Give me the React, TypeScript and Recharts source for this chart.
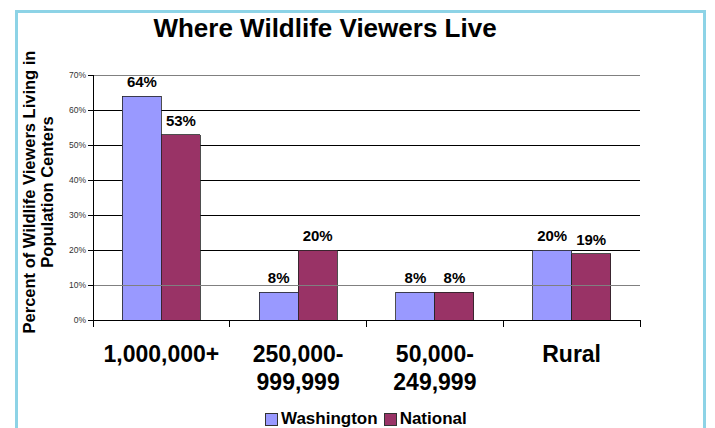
import React from "react";
import {
  BarChart,
  Bar,
  XAxis,
  YAxis,
  CartesianGrid,
  LabelList,
  ReferenceLine,
} from "recharts";

const categories = [
  "1,000,000+",
  "250,000-\n999,999",
  "50,000-\n249,999",
  "Rural",
];
const washington = [64, 8, 8, 20];
const national = [53, 20, 8, 19];
const yTicks = [0, 10, 20, 30, 40, 50, 60, 70];

const series = [
  { key: "washington", name: "Washington", color: "#9999FF" },
  { key: "national", name: "National", color: "#993366" },
];

const data = categories.map((c, i) => ({
  category: c,
  washington: washington[i],
  national: national[i],
}));

const W = 715;
const H = 428;
const PLOT_LEFT = 93;
const PLOT_RIGHT = 640;
const PLOT_TOP = 75;
const PLOT_BOTTOM = 320;
const Y_AXIS_W = 40;
const X_AXIS_H = 80;
const BAND = (PLOT_RIGHT - PLOT_LEFT) / categories.length;
const FONT = '"Liberation Sans", Arial, sans-serif';

function CategoryTick(props: any) {
  const { x, y, payload, index } = props;
  const lines = String(payload.value).split("\n");
  const left = x - BAND / 2;
  return (
    <g>
      <line x1={left} y1={y} x2={left} y2={y + 7} stroke="#000" />
      {index === categories.length - 1 && (
        <line x1={x + BAND / 2} y1={y} x2={x + BAND / 2} y2={y + 7} stroke="#000" />
      )}
      <text
        x={x}
        y={y}
        textAnchor="middle"
        fontFamily={FONT}
        fontWeight="bold"
        fontSize={23}
        fill="#000"
      >
        {lines.map((l, i) => (
          <tspan key={i} x={x} dy={i === 0 ? 42 : 28}>
            {l}
          </tspan>
        ))}
      </text>
    </g>
  );
}

export default function App() {
  return (
    <div
      style={{
        position: "absolute",
        left: 0,
        top: 0,
        width: W,
        height: H,
        overflow: "hidden",
        background: "#fff",
        fontFamily: FONT,
      }}
    >
      <style>{`.recharts-wrapper line, .recharts-wrapper .recharts-rectangle { shape-rendering: crispEdges; }`}</style>
      <div
        style={{
          position: "absolute",
          left: 15,
          top: 10,
          width: 691,
          height: 500,
          border: "3px solid #8DD3E6",
          boxSizing: "border-box",
        }}
      />
      <div
        style={{
          position: "absolute",
          left: 125,
          top: 15,
          width: 400,
          textAlign: "center",
          fontSize: 26,
          lineHeight: "26px",
          fontWeight: "bold",
          color: "#000",
        }}
      >
        Where Wildlife Viewers Live
      </div>
      <div
        style={{
          position: "absolute",
          left: 38 - 170,
          top: 192 - 18,
          width: 340,
          height: 36,
          transform: "rotate(-90deg)",
          transformOrigin: "center",
          textAlign: "center",
          fontSize: 16.5,
          lineHeight: "18px",
          fontWeight: "bold",
          color: "#000",
          whiteSpace: "nowrap",
        }}
      >
        Percent of Wildlife Viewers Living in
        <br />
        Population Centers
      </div>
      <div style={{ position: "absolute", left: 0, top: 0 }}>
        <BarChart
          width={W}
          height={H}
          data={data}
          margin={{
            top: PLOT_TOP,
            right: W - PLOT_RIGHT,
            left: PLOT_LEFT - Y_AXIS_W,
            bottom: H - PLOT_BOTTOM - X_AXIS_H,
          }}
          barCategoryGap="21.5%"
          barGap={0}
        >
          <CartesianGrid vertical={false} stroke="#000" strokeWidth={1} />
          <XAxis
            dataKey="category"
            height={X_AXIS_H}
            axisLine={{ stroke: "#000" }}
            tickLine={false}
            tickSize={0}
            tickMargin={0}
            interval={0}
            tick={<CategoryTick />}
          />
          <YAxis
            width={Y_AXIS_W}
            domain={[0, 70]}
            ticks={yTicks}
            tickFormatter={(v: number) => `${v}%`}
            axisLine={{ stroke: "#000" }}
            tickLine={{ stroke: "#000" }}
            tickSize={5}
            tickMargin={2}
            tick={{ fontSize: 8.5, fill: "#333", fontFamily: FONT }}
          />
          <YAxis
            yAxisId="frame"
            orientation="right"
            width={0}
            tick={false}
            tickLine={false}
            axisLine={{ stroke: "#808080" }}
          />
          <ReferenceLine y={70} stroke="#808080" />
          <ReferenceLine y={10} stroke="#808080" />
          {series.map((s) => (
            <Bar
              key={s.key}
              dataKey={s.key}
              name={s.name}
              fill={s.color}
              stroke="#222"
              strokeWidth={0.8}
              isAnimationActive={false}
            >
              <LabelList
                dataKey={s.key}
                position="top"
                offset={9}
                formatter={(v: any) => `${v}%`}
                style={{
                  fontSize: 15,
                  fontWeight: "bold",
                  fill: "#000",
                  fontFamily: FONT,
                }}
              />
            </Bar>
          ))}
        </BarChart>
      </div>
      <div
        style={{
          position: "absolute",
          left: 265,
          top: 410,
          height: 18,
          display: "flex",
          alignItems: "center",
          fontSize: 17,
          fontWeight: "bold",
          color: "#000",
        }}
      >
        {series.map((s) => (
          <div
            key={s.key}
            style={{ display: "flex", alignItems: "center", marginRight: 6 }}
          >
            <span
              style={{
                display: "inline-block",
                width: 13,
                height: 13,
                background: s.color,
                border: "1px solid #333",
                boxSizing: "border-box",
                marginRight: 3,
              }}
            />
            <span>{s.name}</span>
          </div>
        ))}
      </div>
    </div>
  );
}
